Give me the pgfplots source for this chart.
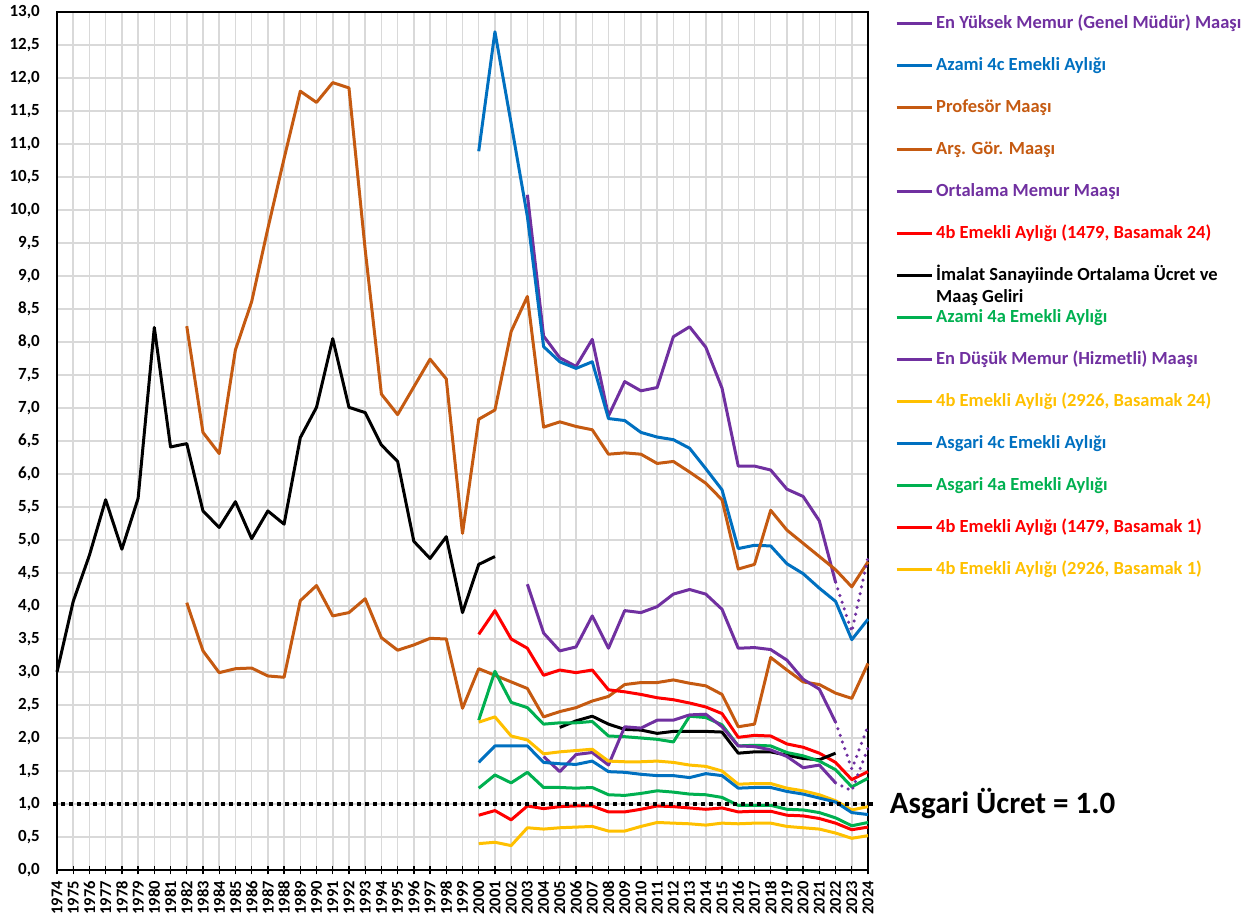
\documentclass[border=0pt]{standalone}
\usepackage{pgfplots}
\pgfplotsset{compat=1.18}
\usepackage{fontspec}
\setmainfont{Carlito}
\definecolor{cP}{HTML}{7030A0}
\definecolor{cB}{HTML}{0070C0}
\definecolor{cO}{HTML}{C55A11}
\definecolor{cR}{HTML}{FF0000}
\definecolor{cG}{HTML}{00B050}
\definecolor{cY}{HTML}{FFC000}
\definecolor{cGrid}{HTML}{D9D9D9}
\begin{document}
\begin{tikzpicture}
\begin{axis}[
  at={(0,0)}, anchor=south west,
  scale only axis, width=811bp, height=858bp,
  xmin=1974, xmax=2024, ymin=0, ymax=13,
  xtick distance=1, ytick={0,0.5,...,13},
  grid=major, grid style={cGrid, line width=1.5bp},
  axis line style={black, line width=1.3bp},
  tick align=center, major tick length=9bp,
  xtick style={black, line width=1.3bp},
  ytick style={draw=none},
  xtick pos=bottom, ytick pos=left,
  /pgf/number format/assume math mode=true,
  xticklabel={\pgfmathprintnumber[fixed,precision=0,1000 sep={}]{\tick}},
  xticklabel style={yshift=-6.5bp, rotate=90, anchor=east, inner sep=0pt,
    font=\fontsize{16.5bp}{19bp}\selectfont\bfseries},
  yticklabel style={anchor=east, inner sep=0pt, xshift=-12.5bp,
    font=\fontsize{17bp}{20bp}\selectfont\bfseries,
    /pgf/number format/.cd, fixed, fixed zerofill, precision=1, use comma},
  unbounded coords=jump,
  clip=false,
  every axis plot/.append style={line width=3bp, line join=round},
  legend cell align=left,
  legend image code/.code={\draw[#1] (0bp,0bp) -- (35bp,0bp);},
  legend style={at={(axis description cs:1,1)}, anchor=north west,
    xshift=27bp, yshift=-3bp, draw=none, fill=none, inner sep=0pt,
    row sep=25bp, column sep=3bp,
    font=\fontsize{18.5bp}{22bp}\selectfont\bfseries,
    nodes={inner sep=0pt, text height=13bp, text depth=4bp, anchor=west}},
]
% 1 En Yuksek Memur
\addplot[cP] coordinates {(2003,10.23)(2004,8.09)(2005,7.76)(2006,7.63)(2007,8.04)(2008,6.88)(2009,7.40)(2010,7.26)(2011,7.31)(2012,8.08)(2013,8.23)(2014,7.92)(2015,7.30)(2016,6.12)(2017,6.12)(2018,6.06)(2019,5.77)(2020,5.66)(2021,5.29)(2022,4.36)};
\addlegendentry{\textcolor{cP}{En Yüksek Memur (Genel Müdür) Maaşı}}
% 2 Azami 4c
\addplot[cB] coordinates {(2000,10.89)(2001,12.70)(2002,11.31)(2003,9.90)(2004,7.93)(2005,7.70)(2006,7.60)(2007,7.70)(2008,6.84)(2009,6.81)(2010,6.63)(2011,6.56)(2012,6.52)(2013,6.39)(2014,6.08)(2015,5.76)(2016,4.87)(2017,4.92)(2018,4.91)(2019,4.64)(2020,4.49)(2021,4.27)(2022,4.07)(2023,3.49)(2024,3.80)};
\addlegendentry{\textcolor{cB}{Azami 4c Emekli Aylığı}}
% 3 Profesor
\addplot[cO] coordinates {(1982,8.24)(1983,6.63)(1984,6.31)(1985,7.88)(1986,8.61)(1987,9.72)(1988,10.78)(1989,11.80)(1990,11.63)(1991,11.93)(1992,11.85)(1993,9.40)(1994,7.21)(1995,6.90)(1996,7.32)(1997,7.74)(1998,7.44)(1999,5.10)(2000,6.83)(2001,6.97)(2002,8.16)(2003,8.69)(2004,6.71)(2005,6.79)(2006,6.72)(2007,6.67)(2008,6.30)(2009,6.32)(2010,6.30)(2011,6.16)(2012,6.19)(2013,6.03)(2014,5.86)(2015,5.61)(2016,4.56)(2017,4.63)(2018,5.45)(2019,5.15)(2020,4.95)(2021,4.75)(2022,4.55)(2023,4.29)(2024,4.67)};
\addlegendentry{\textcolor{cO}{Profesör Maaşı}}
% 4 Ars Gor
\addplot[cO] coordinates {(1982,4.05)(1983,3.32)(1984,2.99)(1985,3.05)(1986,3.06)(1987,2.94)(1988,2.92)(1989,4.08)(1990,4.31)(1991,3.85)(1992,3.90)(1993,4.11)(1994,3.52)(1995,3.33)(1996,3.41)(1997,3.51)(1998,3.50)(1999,2.45)(2000,3.05)(2001,2.95)(2002,2.85)(2003,2.75)(2004,2.32)(2005,2.40)(2006,2.46)(2007,2.56)(2008,2.63)(2009,2.81)(2010,2.84)(2011,2.84)(2012,2.88)(2013,2.83)(2014,2.79)(2015,2.66)(2016,2.17)(2017,2.21)(2018,3.22)(2019,3.03)(2020,2.85)(2021,2.81)(2022,2.68)(2023,2.60)(2024,3.13)};
\addlegendentry{\textcolor{cO}{Arş. Gör. Maaşı}}
% 5 Ortalama Memur
\addplot[cP] coordinates {(2003,4.33)(2004,3.59)(2005,3.32)(2006,3.38)(2007,3.85)(2008,3.36)(2009,3.93)(2010,3.90)(2011,3.99)(2012,4.18)(2013,4.25)(2014,4.18)(2015,3.95)(2016,3.36)(2017,3.37)(2018,3.34)(2019,3.18)(2020,2.89)(2021,2.74)(2022,2.24)};
\addlegendentry{\textcolor{cP}{Ortalama Memur Maaşı}}
% 6 4b 1479 B24
\addplot[cR] coordinates {(2000,3.57)(2001,3.93)(2002,3.50)(2003,3.36)(2004,2.95)(2005,3.03)(2006,2.99)(2007,3.03)(2008,2.73)(2009,2.70)(2010,2.66)(2011,2.61)(2012,2.58)(2013,2.53)(2014,2.47)(2015,2.37)(2016,2.01)(2017,2.04)(2018,2.03)(2019,1.91)(2020,1.86)(2021,1.77)(2022,1.63)(2023,1.37)(2024,1.49)};
\addlegendentry{\textcolor{cR}{4b Emekli Aylığı (1479, Basamak 24)}}
% 7 Imalat
\addplot[black] coordinates {(1974,3.00)(1975,4.07)(1976,4.77)(1977,5.61)(1978,4.86)(1979,5.63)(1980,8.22)(1981,6.41)(1982,6.46)(1983,5.44)(1984,5.19)(1985,5.58)(1986,5.02)(1987,5.44)(1988,5.24)(1989,6.55)(1990,7.01)(1991,8.05)(1992,7.01)(1993,6.93)(1994,6.44)(1995,6.19)(1996,4.98)(1997,4.72)(1998,5.05)(1999,3.90)(2000,4.63)(2001,4.75)(2002,nan)(2005,2.16)(2006,2.26)(2007,2.33)(2008,2.21)(2009,2.13)(2010,2.12)(2011,2.07)(2012,2.10)(2013,2.10)(2014,2.10)(2015,2.09)(2016,1.77)(2017,1.79)(2018,1.79)(2019,1.74)(2020,1.69)(2021,1.67)(2022,1.77)};
\addlegendentry{\begin{tabular}[t]{@{}l@{}}İmalat Sanayiinde Ortalama Ücret ve\\Maaş Geliri\end{tabular}}
% 8 Azami 4a
\addplot[cG] coordinates {(2000,2.27)(2001,3.01)(2002,2.54)(2003,2.46)(2004,2.21)(2005,2.23)(2006,2.23)(2007,2.25)(2008,2.03)(2009,2.02)(2010,2.00)(2011,1.98)(2012,1.94)(2013,2.33)(2014,2.31)(2015,2.20)(2016,1.88)(2017,1.89)(2018,1.88)(2019,1.78)(2020,1.73)(2021,1.65)(2022,1.52)(2023,1.26)(2024,1.39)};
\addlegendentry{\textcolor{cG}{Azami 4a Emekli Aylığı}}
% 9 En Dusuk Memur
\addplot[cP] coordinates {(2004,1.72)(2005,1.49)(2006,1.75)(2007,1.78)(2008,1.59)(2009,2.17)(2010,2.15)(2011,2.27)(2012,2.27)(2013,2.35)(2014,2.36)(2015,2.17)(2016,1.88)(2017,1.87)(2018,1.82)(2019,1.72)(2020,1.55)(2021,1.59)(2022,1.32)};
\addlegendentry{\textcolor{cP}{En Düşük Memur (Hizmetli) Maaşı}}
% 10 4b 2926 B24
\addplot[cY] coordinates {(2000,2.24)(2001,2.32)(2002,2.03)(2003,1.97)(2004,1.76)(2005,1.79)(2006,1.81)(2007,1.83)(2008,1.65)(2009,1.64)(2010,1.64)(2011,1.65)(2012,1.63)(2013,1.59)(2014,1.57)(2015,1.50)(2016,1.30)(2017,1.31)(2018,1.31)(2019,1.24)(2020,1.20)(2021,1.14)(2022,1.05)(2023,0.91)(2024,0.96)};
\addlegendentry{\textcolor{cY}{4b Emekli Aylığı (2926, Basamak 24)}}
% 11 Asgari 4c
\addplot[cB] coordinates {(2000,1.63)(2001,1.88)(2002,1.88)(2003,1.88)(2004,1.63)(2005,1.61)(2006,1.60)(2007,1.65)(2008,1.49)(2009,1.48)(2010,1.45)(2011,1.43)(2012,1.43)(2013,1.40)(2014,1.46)(2015,1.43)(2016,1.24)(2017,1.25)(2018,1.25)(2019,1.19)(2020,1.15)(2021,1.09)(2022,1.03)(2023,0.87)(2024,0.84)};
\addlegendentry{\textcolor{cB}{Asgari 4c Emekli Aylığı}}
% 12 Asgari 4a
\addplot[cG] coordinates {(2000,1.24)(2001,1.44)(2002,1.32)(2003,1.48)(2004,1.25)(2005,1.25)(2006,1.24)(2007,1.25)(2008,1.14)(2009,1.13)(2010,1.16)(2011,1.20)(2012,1.18)(2013,1.15)(2014,1.14)(2015,1.10)(2016,0.98)(2017,0.98)(2018,0.98)(2019,0.92)(2020,0.91)(2021,0.87)(2022,0.79)(2023,0.67)(2024,0.72)};
\addlegendentry{\textcolor{cG}{Asgari 4a Emekli Aylığı}}
% 13 4b 1479 B1
\addplot[cR] coordinates {(2000,0.83)(2001,0.90)(2002,0.76)(2003,0.97)(2004,0.93)(2005,0.96)(2006,0.97)(2007,0.97)(2008,0.88)(2009,0.88)(2010,0.92)(2011,0.97)(2012,0.96)(2013,0.94)(2014,0.92)(2015,0.94)(2016,0.88)(2017,0.89)(2018,0.89)(2019,0.83)(2020,0.82)(2021,0.78)(2022,0.71)(2023,0.61)(2024,0.65)};
\addlegendentry{\textcolor{cR}{4b Emekli Aylığı (1479, Basamak 1)}}
% 14 4b 2926 B1
\addplot[cY] coordinates {(2000,0.40)(2001,0.42)(2002,0.37)(2003,0.64)(2004,0.62)(2005,0.64)(2006,0.65)(2007,0.66)(2008,0.59)(2009,0.59)(2010,0.66)(2011,0.72)(2012,0.71)(2013,0.70)(2014,0.68)(2015,0.71)(2016,0.70)(2017,0.71)(2018,0.71)(2019,0.66)(2020,0.64)(2021,0.62)(2022,0.56)(2023,0.48)(2024,0.52)};
\addlegendentry{\textcolor{cY}{4b Emekli Aylığı (2926, Basamak 1)}}
% dotted extensions
\addplot[cP, forget plot, line width=3.5bp, line cap=round, dash pattern=on 0bp off 7bp] coordinates {(2022,4.36)(2023,3.61)(2024,4.74)};
\addplot[cP, forget plot, line width=3.5bp, line cap=round, dash pattern=on 0bp off 7bp] coordinates {(2022,2.24)(2023,1.53)(2024,2.18)};
\addplot[cP, forget plot, line width=3.5bp, line cap=round, dash pattern=on 0bp off 7bp] coordinates {(2022,1.32)(2023,1.20)(2024,1.85)};
% minimum wage line
\addplot[black, forget plot, line width=4bp, dash pattern=on 4bp off 4bp] coordinates {(1973.75,1.0)(2024.55,1.0)}
  node[pos=1, anchor=west, xshift=11bp, inner sep=0pt, font=\fontsize{31bp}{36bp}\selectfont\bfseries] {Asgari Ücret = 1.0};
\end{axis}
\pgfresetboundingbox
\path (-57bp,-54bp) rectangle (1198bp,870bp);
\end{tikzpicture}
\end{document}
